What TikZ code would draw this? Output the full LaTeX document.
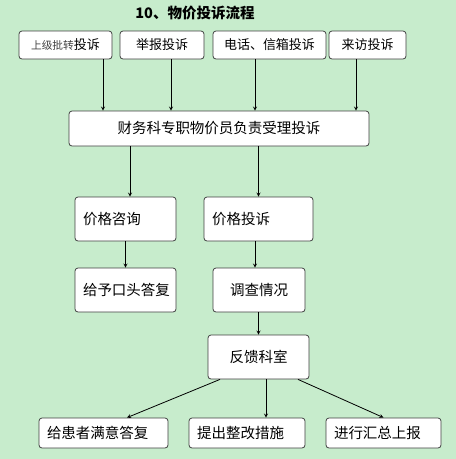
\documentclass[tikz,border=0pt]{standalone}
\usepackage{fontspec}
\setmainfont{Noto Sans CJK SC}
\definecolor{bggreen}{RGB}{199,236,204}
\definecolor{boxline}{RGB}{64,64,64}

\begin{document}
\begin{tikzpicture}[
        x=1pt, y=-1pt,
        every node/.style={font=\fontsize{14.5}{17}\selectfont},
        box/.style={rectangle, draw=boxline, fill=white, rounded corners=3pt, line width=0.8pt, inner xsep=8pt, inner ysep=0pt},
        source/.style={box, minimum height=28pt, font=\fontsize{13}{15}\selectfont},
        stage/.style={box, minimum height=44pt},
        result/.style={box, minimum height=30pt},
        arrow/.style={line width=0.8pt, ->, >=stealth}
        ]

        % Background and page frame
        \fill[bggreen] (0,0) rectangle (456,459);
        \useasboundingbox (0,0) rectangle (456,459);

        % Title
        \node[font=\bfseries\fontsize{14.5}{17}\selectfont] (title) at (195,13) {10、物价投诉流程};

        % Sources of complaints
        \node[source, minimum width=93pt] (S1) at (65.5,45) {{\fontsize{10.7}{13}\selectfont\color{black!75}上级批转}投诉};
        \node[source, minimum width=84pt] (S2) at (162,45) {举报投诉};
        \node[source, minimum width=113pt] (S3) at (269.5,45) {电话、信箱投诉};
        \node[source, minimum width=77pt] (S4) at (367.5,45) {来访投诉};

        % Receiving office
        \node[box, minimum width=300pt, minimum height=35pt] (Office) at (219,128.5) {财务科专职物价员负责受理投诉};

        % Two kinds of cases
        \node[stage, text width=85pt, align=left] (Inquiry) at (125.5,219) {价格咨询};
        \node[stage, text width=93pt, align=left] (Complaint) at (258.5,219) {价格投诉};
        \node[stage, text width=85pt, align=left] (Reply) at (125.5,290) {给予口头答复};
        \node[stage, minimum width=92pt] (Survey) at (259,290) {调查情况};
        \node[stage, minimum width=101pt] (Feedback) at (258.5,357) {反馈科室};

        % Outcomes
        \node[result, text width=113pt, align=left] (Patient) at (103.5,433) {给患者满意答复};
        \node[result, text width=100pt, align=left] (Measures) at (247,433) {提出整改措施};
        \node[result, text width=99pt, align=left] (Report) at (383.5,433) {进行汇总上报};

        % Sources to office
        \draw[arrow] ([xshift=37.5pt]S1.south) -- ([xshift=37.5pt]S1.south |- Office.north);
        \draw[arrow] ([xshift=9pt]S2.south) -- ([xshift=9pt]S2.south |- Office.north);
        \draw[arrow] ([xshift=-14.5pt]S3.south) -- ([xshift=-14.5pt]S3.south |- Office.north);
        \draw[arrow] ([xshift=-11.5pt]S4.south) -- ([xshift=-11.5pt]S4.south |- Office.north);

        % Office to cases
        \draw[arrow] ([xshift=4.5pt]Inquiry.north |- Office.south) -- ([xshift=4.5pt]Inquiry.north);
        \draw[arrow] (Complaint.north |- Office.south) -- (Complaint.north);
        \draw[arrow] (Inquiry) -- (Reply);
        \draw[arrow] ([xshift=-4pt]Survey.north |- Complaint.south) -- ([xshift=-4pt]Survey.north);
        \draw[arrow] (Feedback.north |- Survey.south) -- (Feedback.north);

        % Feedback to outcomes
        \draw[arrow] ([xshift=-38.5pt]Feedback.south) -- ([xshift=23.5pt]Patient.north);
        \draw[arrow] ([xshift=7.5pt]Feedback.south) -- ([xshift=19pt]Measures.north);
        \draw[arrow] ([xshift=39.5pt]Feedback.south) -- (Report.north);

    \end{tikzpicture}
\end{document}
